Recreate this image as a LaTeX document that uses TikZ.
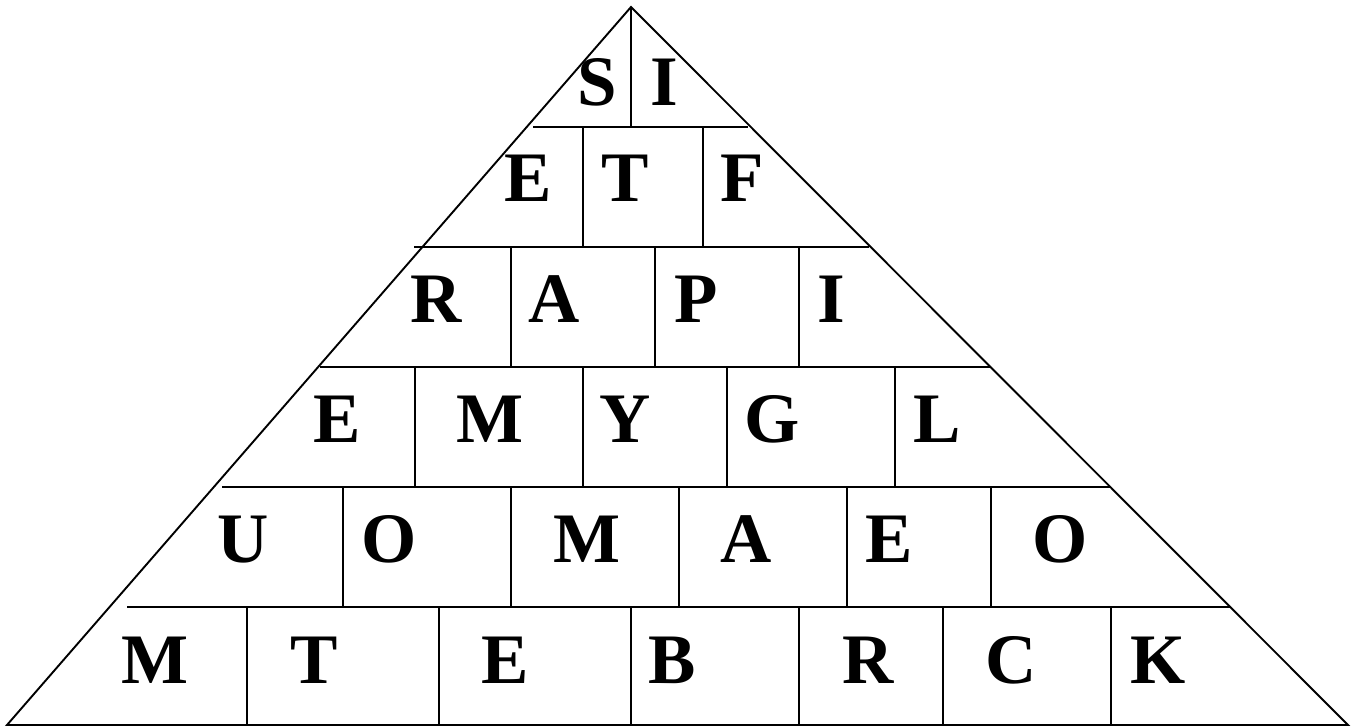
\documentclass[tikz,border=0pt]{standalone}
\usepackage{fontspec}
\setmainfont{Liberation Serif}
\usepackage{tikz}

\begin{document}
\begin{tikzpicture}[x=1pt,y=-1pt,line width=1.9pt,
  letter/.style={anchor=base,inner sep=0pt,font=\fontsize{71}{71}\selectfont\bfseries}]
  \useasboundingbox (0,0) rectangle (1351,727);
  % outline of the pyramid
  \draw[line join=miter] (7,725) -- (631,7) -- (1348,725) -- cycle;
  % row lines
  \foreach \y/\a/\b in {127/533/748,247/414/869,367/320/990,487/222/1110,607/127/1230} {\draw (\a,\y) -- (\b,\y);}
  % bricks: top, bottom, x of the joints
  \foreach \t/\b/\xs in {7/127/{631},127/247/{583,703},247/367/{511,655,799},367/487/{415,583,727,895},
     487/607/{343,511,679,847,991},607/725/{247,439,631,799,943,1111}} {\foreach \x in \xs {\draw (\x,\t) -- (\x,\b);}}
  % letters, row by row (baseline, then x/letter)
  \foreach \y/\row [count=\r] in {106/{597/S,664/I},202/{528/E,625/T,742/F},322/{436/R,554/A,696/P,831/I},
     442/{337/E,490/M,625/Y,772/G,937/L},562/{243/U,389/O,587/M,746/A,889/E,1060/O},
     683/{155/M,314/T,505/E,672/B,868/R,1011/C,1158/K}} {\foreach \x/\l [count=\i] in \row {\node[letter] (l\r-\i) at (\x,\y) {\l};}}
\end{tikzpicture}
\end{document}
